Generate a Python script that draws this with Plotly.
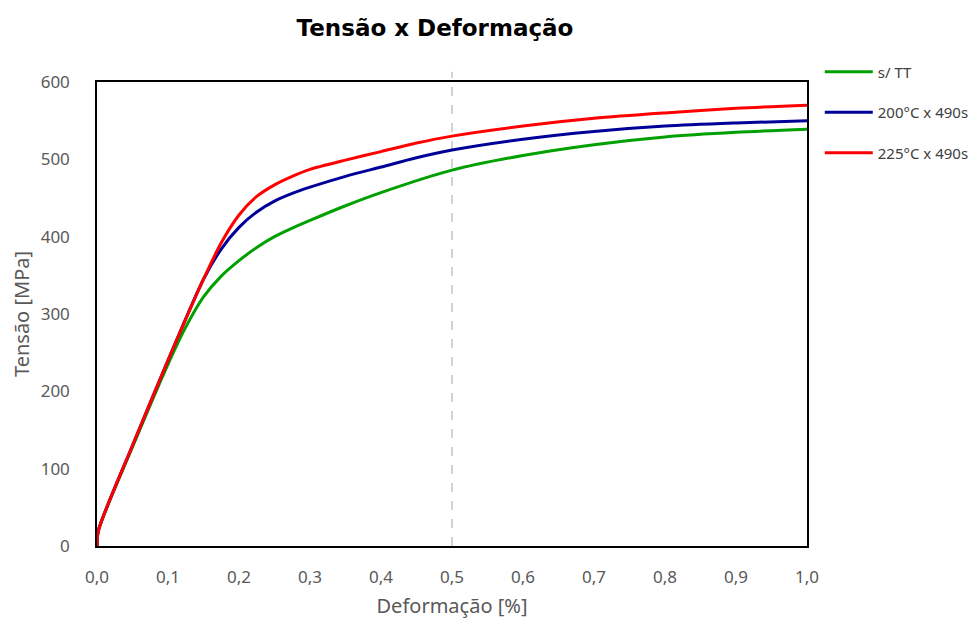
import plotly.graph_objects as go

# Data
strain_sTT = [0.0, 0.002, 0.05, 0.1, 0.125, 0.15, 0.175, 0.2, 0.225, 0.25, 0.275, 0.3, 0.35, 0.4, 0.5, 0.6, 0.7, 0.8, 0.9, 1.0]
stress_sTT = [0, 20, 128, 235, 283, 322, 349, 369, 386, 400, 411, 421, 440, 457, 486, 505, 519, 529, 535, 539]

strain_200 = [0.0, 0.002, 0.05, 0.1, 0.15, 0.175, 0.2, 0.225, 0.25, 0.275, 0.3, 0.35, 0.4, 0.45, 0.5, 0.6, 0.7, 0.8, 0.9, 1.0]
stress_200 = [0, 20, 130, 240, 345, 384, 412, 432, 446, 456, 464, 478, 490, 502, 512, 526, 536, 543, 547, 550]

strain_225 = [0.0, 0.002, 0.05, 0.1, 0.15, 0.175, 0.2, 0.225, 0.25, 0.275, 0.3, 0.35, 0.4, 0.45, 0.5, 0.6, 0.7, 0.8, 0.9, 1.0]
stress_225 = [0, 20, 130, 240, 345, 392, 428, 452, 467, 478, 487, 499, 510, 521, 530, 543, 553, 560, 566, 570]

names = ["s/ TT", "200°C x 490s", "225°C x 490s"]
colors = ["#00A000", "#000099", "#FF0000"]

x_ticks = [0, 0.1, 0.2, 0.3, 0.4, 0.5, 0.6, 0.7, 0.8, 0.9, 1.0]
y_ticks = [0, 100, 200, 300, 400, 500, 600]
ref_strain = 0.5

fig = go.Figure()
for i, (xs, ys) in enumerate([(strain_sTT, stress_sTT), (strain_200, stress_200), (strain_225, stress_225)]):
    fig.add_trace(go.Scatter(
        x=xs, y=ys, mode="lines", name=names[i], legendgroup=names[i],
        line=dict(color=colors[i], width=3, shape="spline", smoothing=0.8),
    ))

fig.add_shape(type="line", xref="x", yref="paper", x0=ref_strain, x1=ref_strain, y0=0, y1=1.022,
              line=dict(color="#A6A6A6", width=1, dash="dash"), layer="below")

fig.update_layout(
    width=979, height=621,
    margin=dict(l=89, r=180, t=74, b=83),
    paper_bgcolor="white", plot_bgcolor="white",
    separators=", ",
    title=dict(text="<b>Tensão x Deformação</b>", x=427/979, xanchor="center", xref="container",
               y=1 - 20/621, yanchor="middle", yref="container",
               font=dict(family="DejaVu Sans", size=23, color="black")),
    font=dict(family="Noto Sans", color="#595959", size=13),
    legend=dict(x=1.018, y=1.057, xanchor="left", yanchor="top",
                tracegroupgap=18, itemwidth=48,
                font=dict(family="Noto Sans", size=15, color="#404040"), bgcolor="rgba(0,0,0,0)"),
    xaxis=dict(range=[0, 1.0], tickvals=x_ticks, tickformat=".1f", showgrid=False, zeroline=False,
               showline=True, linecolor="black", linewidth=1.5, mirror=True, ticks="",
               ticklabelstandoff=15,
               title=dict(text="Deformação [%]", font=dict(size=20, color="#595959"), standoff=12),
               tickfont=dict(size=17, color="#595959")),
    yaxis=dict(range=[0, 600], tickvals=y_ticks, showgrid=False, zeroline=False,
               showline=True, linecolor="black", linewidth=1.5, mirror=True, ticks="",
               ticklabelstandoff=22,
               title=dict(text="Tensão [MPa]", font=dict(size=20, color="#595959"), standoff=6),
               tickfont=dict(size=17, color="#595959")),
)

fig.write_html("out.html")
